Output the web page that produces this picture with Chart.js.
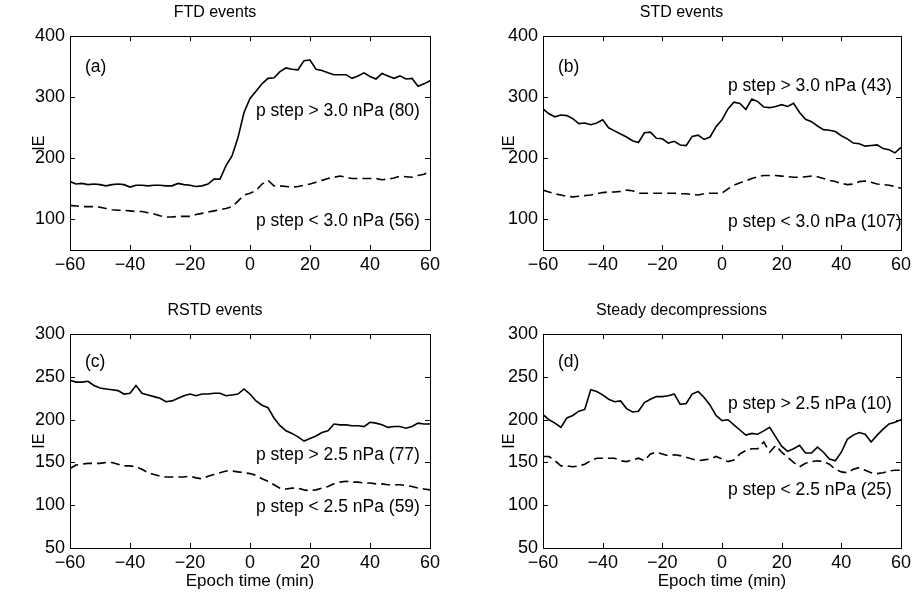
<!DOCTYPE html>
<html lang="en">
<head>
<meta charset="UTF-8">
<title>IE around pressure steps</title>
<script src="https://cdn.jsdelivr.net/npm/chart.js"></script>
<style>
  body { margin: 0; background: #fff; }
  .panel { position: absolute; }
</style>
</head>
<body>
<div class="panel" style="left:0;top:0;width:460px;height:298px"><canvas id="chartA"></canvas></div>
<div class="panel" style="left:460px;top:0;width:455px;height:298px"><canvas id="chartB"></canvas></div>
<div class="panel" style="left:0;top:298px;width:460px;height:298px"><canvas id="chartC"></canvas></div>
<div class="panel" style="left:460px;top:298px;width:455px;height:298px"><canvas id="chartD"></canvas></div>
<script>
// epoch time (min)
const epochMin = [-60,-58,-56,-54,-52,-50,-48,-46,-44,-42,-40,-38,-36,-34,-32,-30,-28,-26,-24,-22,
  -20,-18,-16,-14,-12,-10,-8,-6,-4,-2,0,2,4,6,8,10,12,14,16,18,20,22,24,26,28,30,32,34,36,38,
  40,42,44,46,48,50,52,54,56,58,60];

// (a) FTD events
const ftdHigh = [162,158,159,157,158,157,155,157,158,157, 153,156,156,155,156,156,155,155,159,157,
  156,154,155,158,166,166,188,204,234,275, 298,310,322,331,332,342,348,346,345,360,
  361,346,344,340,337,337,337,331,335,340, 334,330,339,335,331,335,330,331,318,322, 327];
const ftdLow = [123,122,121,121,121,120,118,116,115,115, 114,113,113,111,109,106,104,104,105,105,
  105,108,110,112,114,116,118,121,130,140, 143,147,158,164,155,155,154,153,154,156,
  158,161,164,167,169,171,169,167,167,167, 167,167,165,166,168,171,170,169,172,174, 178];

// (b) STD events
const stdHigh = [281,273,268,271,270,265,257,258,255,258, 263,250,245,240,235,229,226,242,243,233,
  232,225,228,222,221,236,238,231,235,252, 263,281,292,290,280,297,293,284,283,285,
  288,285,290,275,264,260,253,247,246,244, 237,232,225,224,220,221,222,216,214,209, 218];
const stdLow = [148,145,142,140,138,137,138,139,140,142, 144,145,145,146,148,147,143,143,143,143,
  143,143,143,142,142,141,140,142,143,143, 143,150,156,160,163,167,170,172,172,172,
  171,170,169,169,170,171,170,167,164,162, 159,157,158,162,163,161,158,157,156,154, 151];

// (c) RSTD events
const rstdHigh = [246,244,244,245,240,237,236,235,234,230, 231,240,231,229,227,225,221,222,225,228,
  230,228,230,230,231,231,228,229,230,236, 230,222,217,214,202,193,187,184,180,175,
  178,181,185,187,195,194,194,193,193,192, 197,196,194,191,192,192,190,192,196,195, 195];
const rstdLow = [143,147,148,149,149,149,150,150,148,146, 146,145,142,138,136,134,133,133,133,133,
  134,132,131,134,136,138,140,140,139,138, 137,135,131,128,124,120,119,120,120,118,
  117,118,120,122,125,127,128,127,127,126, 126,125,125,124,124,124,123,122,120,119, 118];

// (d) Steady decompressions
const steadyHigh = [206,200,196,191,202,205,210,212,235,233, 229,224,221,222,213,209,210,220,224,227,
  227,228,230,218,219,230,233,226,217,205, 199,200,194,188,182,184,183,187,191,180,
  169,163,166,170,161,161,168,162,154,152, 162,177,182,185,183,174,182,189,195,197, 200];
const steadyLow = [157,157,152,146,146,145,146,148,152,155, 155,155,155,152,151,153,155,152,160,162,
  160,158,159,158,156,154,152,153,154,157, 154,151,153,160,164,166,166,174,162,170,
  162,156,150,145,149,151,152,151,148,142, 139,138,142,144,141,138,137,138,140,141, 141];

const panelTitles = ['FTD events', 'STD events', 'RSTD events', 'Steady decompressions'];
const panelLetters = ['(a)', '(b)', '(c)', '(d)'];
const highLabels = ['p step > 3.0 nPa (80)', 'p step > 3.0 nPa (43)', 'p step > 2.5 nPa (77)', 'p step > 2.5 nPa (10)'];
const lowLabels = ['p step < 3.0 nPa (56)', 'p step < 3.0 nPa (107)', 'p step < 2.5 nPa (59)', 'p step < 2.5 nPa (25)'];
const xTicks = [-60, -40, -20, 0, 20, 40, 60];
const yTicksTop = [100, 200, 300, 400];
const yTicksBottom = [50, 100, 150, 200, 250, 300];

Chart.defaults.font.family = "'Liberation Sans', Arial, sans-serif";
Chart.defaults.color = '#000';

const FONT = "'Liberation Sans', Arial, sans-serif";
const minus = v => (v < 0 ? '\u2212' + Math.abs(v) : String(v));

// MATLAB style box, inward ticks and in-axes text
const boxPlugin = {
  id: 'matlabBox',
  afterDraw(chart) {
    const { ctx, chartArea: a, scales: { x, y } } = chart;
    const o = chart.options.plugins.matlabBox;
    ctx.save();
    ctx.strokeStyle = '#000';
    ctx.lineWidth = 1;
    ctx.beginPath();
    x.ticks.forEach(t => {
      const px = Math.round(x.getPixelForValue(t.value)) + 0.5;
      ctx.moveTo(px, a.bottom); ctx.lineTo(px, a.bottom - 5);
      ctx.moveTo(px, a.top); ctx.lineTo(px, a.top + 5);
    });
    y.ticks.forEach(t => {
      const py = Math.round(y.getPixelForValue(t.value)) + 0.5;
      ctx.moveTo(a.left, py); ctx.lineTo(a.left + 5, py);
      ctx.moveTo(a.right, py); ctx.lineTo(a.right - 5, py);
    });
    ctx.stroke();
    ctx.strokeRect(Math.round(a.left) + 0.5, Math.round(a.top) + 0.5,
      Math.round(a.width), Math.round(a.height));

    ctx.fillStyle = '#000';
    ctx.font = '17.5px ' + FONT;
    ctx.textBaseline = 'middle';
    ctx.textAlign = 'left';
    o.texts.forEach(t => {
      ctx.fillText(t.text, x.getPixelForValue(t.x), y.getPixelForValue(t.y));
    });
    ctx.restore();
  }
};

function makePanel(id, i, high, low, yMin, yMax, yTicks, isBottom, isRight, textY) {
  const data = vals => epochMin.map((t, k) => ({ x: t, y: vals[k] }));
  new Chart(document.getElementById(id), {
    type: 'line',
    data: {
      datasets: [
        { data: data(high), borderColor: '#000', borderWidth: 1.6, pointRadius: 0, tension: 0 },
        { data: data(low), borderColor: '#000', borderWidth: 1.6, pointRadius: 0, tension: 0, borderDash: [9, 5] }
      ]
    },
    plugins: [boxPlugin],
    options: {
      responsive: true,
      maintainAspectRatio: false,
      animation: false,
      devicePixelRatio: 1,
      layout: { padding: { left: 0, right: isRight ? 12 : 30, top: 0, bottom: 0 } },
      plugins: {
        legend: { display: false },
        tooltip: { enabled: false },
        title: {
          display: true,
          text: panelTitles[i],
          font: { size: 16, weight: 'normal' },
          color: '#000',
          padding: { top: 3, bottom: 14 }
        },
        matlabBox: {
          texts: [
            { text: panelLetters[i], x: -55, y: textY[0] },
            { text: highLabels[i], x: 2, y: textY[1] },
            { text: lowLabels[i], x: 2, y: textY[2] }
          ]
        }
      },
      scales: {
        x: {
          type: 'linear',
          min: -60, max: 60,
          afterBuildTicks: s => { s.ticks = xTicks.map(v => ({ value: v })); },
          afterFit: s => { s.height = 48; },
          grid: { display: false, drawTicks: false },
          border: { display: false },
          ticks: { font: { size: 18 }, color: '#000', padding: 4, maxRotation: 0, callback: v => minus(v) },
          title: {
            display: isBottom,
            text: 'Epoch time (min)',
            font: { size: 17 },
            color: '#000',
            padding: { top: 0, bottom: 4 }
          }
        },
        y: {
          min: yMin, max: yMax,
          afterBuildTicks: s => { s.ticks = yTicks.map(v => ({ value: v })); },
          afterFit: s => { s.width = isRight ? 83 : 70; },
          grid: { display: false, drawTicks: false },
          border: { display: false },
          ticks: { font: { size: 18 }, color: '#000', padding: 5, callback: v => minus(v) },
          title: {
            display: true,
            text: 'IE',
            font: { size: 16 },
            color: '#000',
            padding: { top: isRight ? 40 : 30, bottom: 0 }
          }
        }
      }
    }
  });
}

makePanel('chartA', 0, ftdHigh, ftdLow, 50, 400, yTicksTop, false, false, [349, 277, 97]);
makePanel('chartB', 1, stdHigh, stdLow, 50, 400, yTicksTop, false, true, [349, 318, 96]);
makePanel('chartC', 2, rstdHigh, rstdLow, 50, 300, yTicksBottom, true, false, [267, 159, 98]);
makePanel('chartD', 3, steadyHigh, steadyLow, 50, 300, yTicksBottom, true, true, [267, 218, 118]);
</script>
</body>
</html>
